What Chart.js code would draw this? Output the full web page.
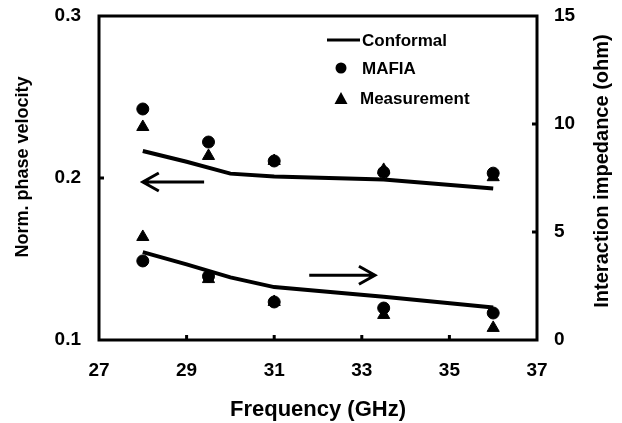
<!DOCTYPE html>
<html lang="en">
   <head>
      <meta charset="UTF-8" />
      <title>Phase velocity and interaction impedance</title>
      <script src="https://cdn.jsdelivr.net/npm/chart.js"></script>
      <style>
         body {
            margin: 0;
            background: #fff;
         }
         #wrap {
            width: 622px;
            height: 423px;
            position: relative;
         }
      </style>
   </head>
   <body>
      <div id="wrap">
         <canvas id="chart"></canvas>
      </div>
      <script>
         // data
         const freq = [28, 29.5, 31, 33.5, 36];
         const mafiaVel = [0.2426, 0.2222, 0.2105, 0.2035, 0.203];
         const measVel = [0.2315, 0.2136, 0.2105, 0.205, 0.2005];
         const mafiaImp = [3.66, 2.95, 1.76, 1.48, 1.25];
         const measImp = [4.77, 2.82, 1.76, 1.16, 0.56];

         const conformalFreq = [28, 29, 30, 31, 33.5, 36];
         const conformalVel = [0.2167, 0.21, 0.2027, 0.201, 0.199, 0.1935];
         const conformalImp = [4.07, 3.5, 2.9, 2.45, 2.0, 1.5];

         const xTicks = [27, 29, 31, 33, 35, 37];
         const velTicks = [0.1, 0.2, 0.3];
         const impTicks = [0, 5, 10, 15];

         // arrows: [xFrom, xTo, y, axis]
         const arrows = [
            [29.4, 28.0, 0.1975, 'yL'],
            [31.8, 33.3, 3.0, 'yR'],
         ];

         const legendItems = ['Conformal', 'MAFIA', 'Measurement'];
         const leftTitle = 'Norm. phase velocity';
         const rightTitle = 'Interaction impedance (ohm)';

         const FONT = '"Liberation Sans", Arial, sans-serif';

         function pts(xs, ys) {
            return xs.map((x, i) => ({ x: x, y: ys[i] }));
         }

         function vText(ctx, text, x, y, size) {
            ctx.save();
            ctx.translate(x, y);
            ctx.rotate(-Math.PI / 2);
            ctx.font = 'bold ' + size + 'px ' + FONT;
            ctx.textAlign = 'center';
            ctx.textBaseline = 'middle';
            ctx.fillText(text, 0, 0);
            ctx.restore();
         }

         const decor = {
            id: 'decor',
            afterDraw(chart) {
               const ctx = chart.ctx;
               const a = chart.chartArea;
               const sx = chart.scales.x;
               const sl = chart.scales.yL;
               const sr = chart.scales.yR;
               ctx.save();
               ctx.strokeStyle = '#000';
               ctx.fillStyle = '#000';
               ctx.lineWidth = 3;
               ctx.strokeRect(a.left, a.top, a.right - a.left, a.bottom - a.top);

               // inward tick marks
               const tl = 5;
               ctx.beginPath();
               xTicks.slice(1, -1).forEach((v) => {
                  const px = sx.getPixelForValue(v);
                  ctx.moveTo(px, a.bottom);
                  ctx.lineTo(px, a.bottom - tl);
               });
               velTicks.slice(1, -1).forEach((v) => {
                  const py = sl.getPixelForValue(v);
                  ctx.moveTo(a.left, py);
                  ctx.lineTo(a.left + tl, py);
               });
               impTicks.slice(1, -1).forEach((v) => {
                  const py = sr.getPixelForValue(v);
                  ctx.moveTo(a.right, py);
                  ctx.lineTo(a.right - tl, py);
               });
               ctx.stroke();

               // arrows
               arrows.forEach(([x0, x1, y, ax]) => {
                  const p0 = sx.getPixelForValue(x0);
                  const p1 = sx.getPixelForValue(x1);
                  const py = chart.scales[ax].getPixelForValue(y);
                  const dir = p1 > p0 ? 1 : -1;
                  ctx.beginPath();
                  ctx.moveTo(p0, py);
                  ctx.lineTo(p1, py);
                  ctx.moveTo(p1 - dir * 16, py - 9);
                  ctx.lineTo(p1, py);
                  ctx.lineTo(p1 - dir * 16, py + 9);
                  ctx.stroke();
               });

               // y axis titles, both reading bottom to top
               vText(ctx, leftTitle, 23, 167, 18);
               vText(ctx, rightTitle, 602, 171, 20);

               // legend
               const lx = 327;
               ctx.font = 'bold 17px ' + FONT;
               ctx.textBaseline = 'middle';
               ctx.textAlign = 'left';
               ctx.beginPath();
               ctx.moveTo(lx, 40);
               ctx.lineTo(lx + 33, 40);
               ctx.stroke();
               ctx.fillText(legendItems[0], 362, 41);

               ctx.beginPath();
               ctx.arc(341, 68, 5.5, 0, Math.PI * 2);
               ctx.fill();
               ctx.fillText(legendItems[1], 362, 69);

               ctx.beginPath();
               ctx.moveTo(341, 92);
               ctx.lineTo(347.5, 104);
               ctx.lineTo(334.5, 104);
               ctx.closePath();
               ctx.fill();
               ctx.fillText(legendItems[2], 360, 99);
               ctx.restore();
            },
         };

         const tickFont = { family: FONT, size: 19, weight: 'bold' };

         function lineSet(data, axis) {
            return {
               label: 'Conformal',
               data: data,
               yAxisID: axis,
               showLine: true,
               borderColor: '#000',
               borderWidth: 4,
               pointRadius: 0,
            };
         }

         function markSet(label, data, axis, style, r) {
            return {
               label: label,
               data: data,
               yAxisID: axis,
               pointStyle: style,
               pointRadius: r,
               backgroundColor: '#000',
               borderColor: '#000',
            };
         }

         // fixed widths and no label overhang so the plot box lands where the figure has it
         function fitY(w) {
            return (s) => {
               s.width = w;
               s.paddingTop = 0;
               s.paddingBottom = 0;
            };
         }

         new Chart(document.getElementById('chart'), {
            type: 'scatter',
            data: {
               datasets: [
                  lineSet(pts(conformalFreq, conformalVel), 'yL'),
                  lineSet(pts(conformalFreq, conformalImp), 'yR'),
                  markSet('MAFIA', pts(freq, mafiaVel), 'yL', 'circle', 6),
                  markSet('MAFIA', pts(freq, mafiaImp), 'yR', 'circle', 6),
                  markSet('Measurement', pts(freq, measVel), 'yL', 'triangle', 7),
                  markSet('Measurement', pts(freq, measImp), 'yR', 'triangle', 7),
               ],
            },
            options: {
               responsive: true,
               maintainAspectRatio: false,
               animation: false,
               layout: { padding: { top: 16, left: 0, right: 0, bottom: 0 } },
               plugins: {
                  legend: { display: false },
                  tooltip: { enabled: false },
               },
               scales: {
                  x: {
                     type: 'linear',
                     min: 27,
                     max: 37,
                     afterBuildTicks: (s) => (s.ticks = xTicks.map((v) => ({ value: v }))),
                     afterFit: (s) => {
                        s.height = 83;
                        s.paddingLeft = 0;
                        s.paddingRight = 0;
                     },
                     grid: { display: false, drawTicks: false },
                     border: { display: false },
                     ticks: { color: '#000', font: tickFont, padding: 19, maxRotation: 0 },
                     title: {
                        display: true,
                        text: 'Frequency (GHz)',
                        color: '#000',
                        font: { family: FONT, size: 22, weight: 'bold' },
                        padding: { top: 2, bottom: 0 },
                     },
                  },
                  yL: {
                     type: 'linear',
                     position: 'left',
                     min: 0.1,
                     max: 0.3,
                     afterBuildTicks: (s) => (s.ticks = velTicks.map((v) => ({ value: v }))),
                     afterFit: fitY(99),
                     grid: { display: false, drawTicks: false },
                     border: { display: false },
                     ticks: { color: '#000', font: tickFont, padding: 18, callback: (v) => v.toFixed(1) },
                  },
                  yR: {
                     type: 'linear',
                     position: 'right',
                     min: 0,
                     max: 15,
                     afterBuildTicks: (s) => (s.ticks = impTicks.map((v) => ({ value: v }))),
                     afterFit: fitY(85),
                     grid: { display: false, drawTicks: false },
                     border: { display: false },
                     ticks: { color: '#000', font: tickFont, padding: 17 },
                  },
               },
            },
            plugins: [decor],
         });
      </script>
   </body>
</html>
